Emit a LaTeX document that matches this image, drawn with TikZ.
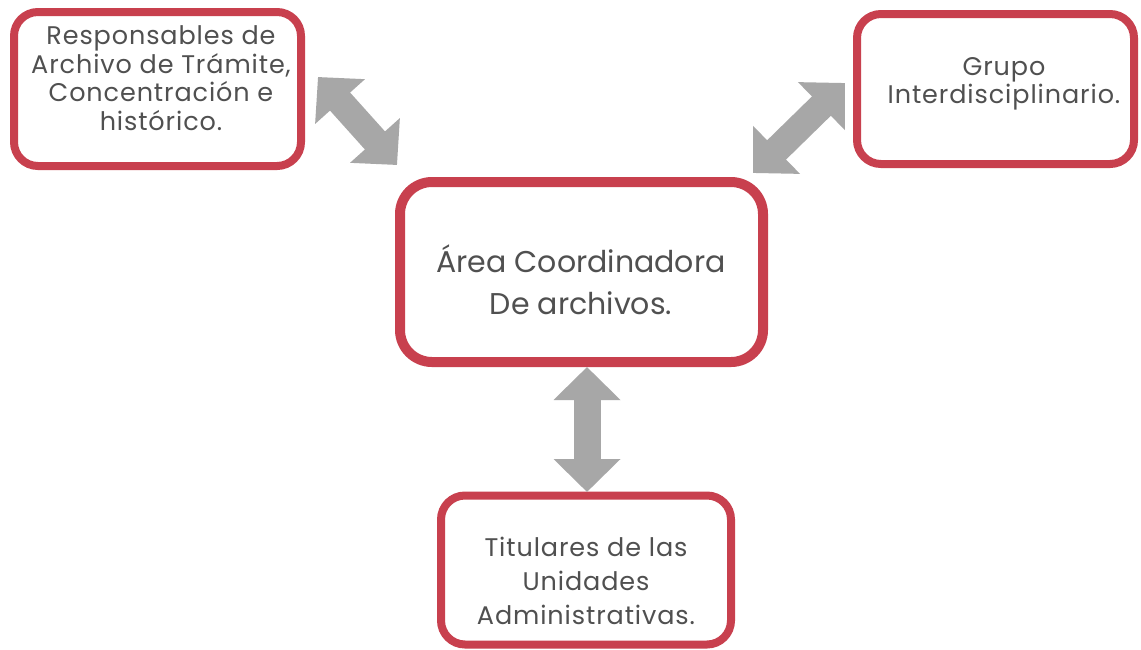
\documentclass[tikz,border=0pt]{standalone}
\usepackage{fontspec}
\setmainfont{Poppins}[LetterSpace=3.5]
\usetikzlibrary{arrows.meta}
\definecolor{boxred}{HTML}{C8404E}
\definecolor{txtgray}{HTML}{505050}
\definecolor{arrgray}{HTML}{A7A7A7}
\tikzset{
  rbox/.style={draw=boxred, fill=white, rounded corners=24pt, line width=8pt, minimum width=#1, inner sep=0pt},
  btxt/.style={text=txtgray, align=center, font=\fontsize{25.5}{28.5}\selectfont},
  bigtxt/.style={text=txtgray, align=center, font=\fontsize{30.5}{42}\selectfont},
  blockarrow/.style={draw=arrgray, line width=27pt,
    {Triangle[length=33pt, width=65pt]}-{Triangle[length=33pt, width=65pt]}},
}
\begin{document}
\begin{tikzpicture}[x=1pt,y=-1pt]
\useasboundingbox (0,0) rectangle (1141,649);
\fill[white] (0,0) rectangle (1141,649);
% boxes
\node[rbox=287pt, minimum height=154pt] (b1) at (157.5,89) {};
\node[rbox=277pt, minimum height=150pt] (b2) at (995.5,89) {};
\node[rbox=363pt, minimum height=180pt, line width=10pt, rounded corners=32pt] (bc) at (581.5,272) {};
\node[rbox=290pt, minimum height=149pt] (b3) at (586,570) {};
% texts
\node[btxt] (t1) at (161,78) {Responsables de\\Archivo de Trámite,\\Concentración e\\histórico.};
\node[btxt] (t2) at (1004,84) {Grupo\\Interdisciplinario.};
\node[bigtxt, font=\fontsize{30}{42}\selectfont\addfontfeatures{LetterSpace=0}] (tc) at (581,280) {Área Coordinadora\\De archivos.};
\node[btxt, font=\fontsize{25.5}{34}\selectfont] (t3) at (586,581) {Titulares de las\\Unidades\\Administrativas.};
% arrows
\coordinate (a1s) at (318,77);
\coordinate (a1e) at (397,165);
\coordinate (a2s) at (845,83);
\coordinate (a2e) at (753,173);
\coordinate (a3s) at (587,367);
\coordinate (a3e) at (587,492);
\draw[blockarrow] (a1s) -- (a1e);
\draw[blockarrow] (a2s) -- (a2e);
\draw[blockarrow] (a3s) -- (a3e);
\end{tikzpicture}
\end{document}
